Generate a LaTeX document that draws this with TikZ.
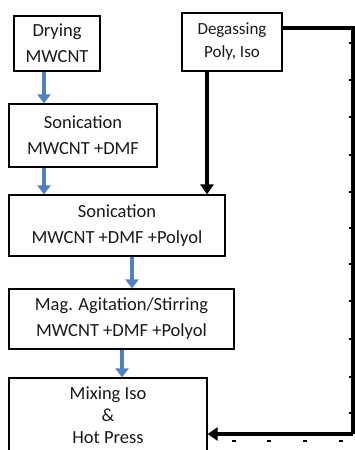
\documentclass[tikz,border=0pt]{standalone}
\usepackage{fontspec}
\setmainfont{Carlito}
\usetikzlibrary{arrows.meta}
\definecolor{flowblue}{RGB}{79,129,189}
\tikzset{
  stagebox/.style={draw=black, line width=1.2pt, inner sep=0pt, align=center,
    text=black!90, font=\fontsize{18.5}{26}\selectfont},
  bluearrow/.style={draw=flowblue, line width=3.5pt,
    -{Triangle[width=13pt,length=9pt]}},
  feedarrow/.style={draw=black, line width=4pt,
    -{Triangle[width=13pt,length=10pt]}},
  feedline/.style={draw=black, line width=3.5pt},
  tickmark/.style={draw=black, line width=1.2pt}
}
\begin{document}
\begin{tikzpicture}[x=1pt, y=-1pt]
\useasboundingbox (0,0) rectangle (355,450);

% process stages
\node[stagebox, minimum width=86pt, minimum height=55pt] (dry) at (57,43.5) {Drying\\MWCNT};
\node[stagebox, minimum width=148pt, minimum height=63pt] (son1) at (83,135.5) {Sonication\\MWCNT +DMF};
\node[stagebox, minimum width=216pt, minimum height=61pt] (son2) at (117,225.5) {Sonication\\MWCNT +DMF +Polyol};
\node[stagebox, minimum width=225pt, minimum height=60pt] (mag) at (121.5,319) {Mag. Agitation/Stirring\\MWCNT +DMF +Polyol};
\node[stagebox, minimum width=198pt, minimum height=74pt, font=\fontsize{18.5}{22}\selectfont] (mix) at (108,415) {Mixing Iso\\\&\\Hot Press};
\node[stagebox, minimum width=100pt, minimum height=58pt, font=\fontsize{17}{23}\selectfont] (deg) at (232,42) {Degassing\\Poly, Iso};

% main sequence
\draw[bluearrow] ([xshift=-13pt]dry.south) -- ([xshift=-13pt]dry.south |- son1.north);
\draw[bluearrow] ([xshift=-39pt]son1.south) -- ([xshift=-39pt]son1.south |- son2.north);
\draw[bluearrow] ([xshift=15pt]son2.south) -- ([xshift=15pt]son2.south |- mag.north);
\draw[bluearrow] ([xshift=0.5pt]mag.south) -- ([xshift=0.5pt]mag.south |- mix.north);

% degassed components
\draw[feedarrow] ([xshift=-25pt]deg.south) -- ([xshift=-25pt]deg.south |- son2.north);
\coordinate (cornerB) at (353,434);
\draw[feedline] ([yshift=14pt]deg.east) -| (cornerB);
\draw[feedarrow] (cornerB) -- (cornerB -| mix.east);

% small marks along the return line
\foreach \ty in {43,80,117,155,192,228,264,301,339,377,413}
  \draw[tickmark] (348.5,\ty) -- (350.5,\ty);
\foreach \tx in {234,269,305,341}
  \draw[tickmark] (\tx-2,441) -- (\tx+2,441);
\end{tikzpicture}
\end{document}
